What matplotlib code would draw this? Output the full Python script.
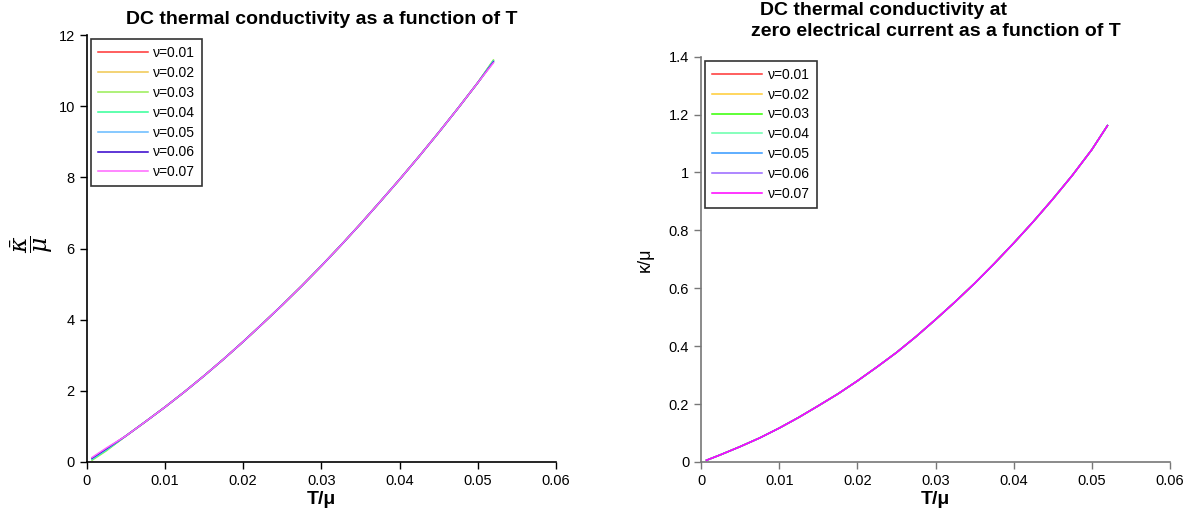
import matplotlib.pyplot as plt
from matplotlib.ticker import FuncFormatter

plt.rcParams['font.family'] = ['Liberation Sans', 'DejaVu Sans']
plt.rcParams['mathtext.fontset'] = 'dejavuserif'

# данные
nu_labels = ["ν=0.01", "ν=0.02", "ν=0.03", "ν=0.04", "ν=0.05", "ν=0.06", "ν=0.07"]

T = [0.0007, 0.0025, 0.005, 0.0075, 0.01, 0.0125, 0.015, 0.0175, 0.02, 0.0225, 0.025,
     0.0275, 0.03, 0.0325, 0.035, 0.0375, 0.04, 0.0425, 0.045, 0.0475, 0.05, 0.052]

# левая панель: kappa_bar / mu — начало кривых немного расходится
kbar_head = [[0.08, 0.34], [0.07, 0.33], [0.05, 0.31], [0.07, 0.33],
             [0.09, 0.35], [0.11, 0.37], [0.13, 0.39]]
kbar_mid = [0.73, 1.13, 1.54, 1.97, 2.42, 2.89, 3.38, 3.89, 4.41, 4.95, 5.51,
            6.09, 6.69, 7.31, 7.94, 8.59, 9.26, 9.95, 10.66]
kbar_tail = [11.27, 11.28, 11.30, 11.28, 11.26, 11.24, 11.22]

# правая панель: kappa / mu — кривые совпадают
kappa = [0.006, 0.025, 0.053, 0.083, 0.117, 0.154, 0.194, 0.235, 0.280, 0.328, 0.378,
         0.433, 0.492, 0.553, 0.617, 0.685, 0.756, 0.830, 0.908, 0.990, 1.079, 1.162]

colors_left = ['#ff3333', '#f0c850', '#99ee55', '#33ff99', '#66bbff', '#3300cc', '#ff66ff']
colors_right = ['#ff3333', '#ffcc33', '#33ff00', '#66ffaa', '#3399ff', '#9966ff', '#ff00ff']

fig = plt.figure(figsize=(12, 5.16), dpi=100)
ax1 = fig.add_axes([0.0722, 0.1047, 0.3911, 0.8273])
ax2 = fig.add_axes([0.5842, 0.1047, 0.3908, 0.7854])

for i in range(7):
    y = kbar_head[i] + kbar_mid + [kbar_tail[i]]
    ax1.plot(T, y, color=colors_left[i], lw=1.1, label=nu_labels[i])
    ax2.plot(T, kappa, color=colors_right[i], lw=1.1, label=nu_labels[i])

fmt = FuncFormatter(lambda v, p: ('%g' % round(v, 4)))

for ax, spc in ((ax1, 'black'), (ax2, '#777777')):
    ax.set_xlim(0, 0.06)
    ax.set_xticks([0, 0.01, 0.02, 0.03, 0.04, 0.05, 0.06])
    ax.xaxis.set_major_formatter(fmt)
    ax.yaxis.set_major_formatter(fmt)
    ax.spines['top'].set_visible(False)
    ax.spines['right'].set_visible(False)
    for s in ('left', 'bottom'):
        ax.spines[s].set_color(spc)
        ax.spines[s].set_linewidth(1.2)
    ax.tick_params(direction='out', length=5, width=1, colors=spc,
                   labelcolor='black', labelsize=10.5)
    ax.set_xlabel('T/μ', fontsize=14, fontweight='bold', labelpad=2)
    leg = ax.legend(loc='upper left', fontsize=10, frameon=True, fancybox=False,
                    handlelength=3.6, handletextpad=0.4, labelspacing=0.42,
                    borderpad=0.5, borderaxespad=0.3)
    leg.get_frame().set_edgecolor('black')
    leg.get_frame().set_linewidth(1.2)

ax1.set_ylim(0, 12)
ax1.set_yticks([0, 2, 4, 6, 8, 10, 12])
ax1.set_ylabel(r'$\dfrac{\bar{\kappa}}{\mu}$', fontsize=17)
ax1.yaxis.set_label_coords(-0.068, 0.51)
ax1.set_title('DC thermal conductivity as a function of T', fontsize=14,
              fontweight='bold', pad=8)

ax2.set_ylim(0, 1.4)
ax2.set_yticks([0, 0.2, 0.4, 0.6, 0.8, 1.0, 1.2, 1.4])
ax2.set_ylabel('κ/μ', fontsize=13)
ax2.yaxis.set_label_coords(-0.1, 0.5)
ax2.text(0.39, 1.113, 'DC thermal conductivity at', transform=ax2.transAxes,
         ha='center', va='center', fontsize=14, fontweight='bold')
ax2.text(0.5, 1.063, 'zero electrical current as a function of T', transform=ax2.transAxes,
         ha='center', va='center', fontsize=14, fontweight='bold')

plt.savefig('out.png', dpi=100)
